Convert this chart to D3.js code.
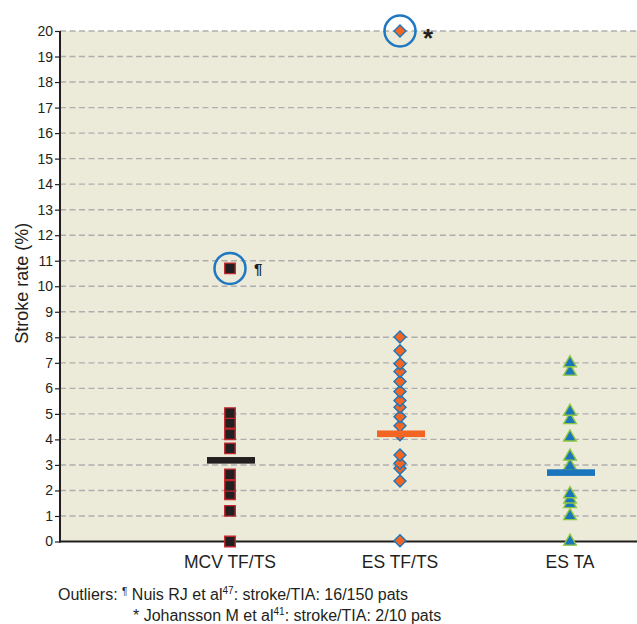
<!DOCTYPE html>
<html>
<head>
<meta charset="utf-8">
<script src="https://cdn.jsdelivr.net/npm/d3@7"></script>
<style>
  body { margin: 0; background: #fff; }
  text { font-family: "Liberation Sans", Arial, sans-serif; fill: #231f20; }
</style>
</head>
<body>
<svg id="chart" width="637" height="624"></svg>
<script>
var svgWidth = 637;
var svgHeight = 624;

var categories = ['MCV TF/TS', 'ES TF/TS', 'ES TA'];
var mcvValues = [0, 1.2, 1.85, 2.18, 2.63, 3.65, 4.2, 4.64, 5.03];
var esTfValues = [0.03, 2.37, 2.87, 3.07, 3.39, 4.18, 4.53, 4.89, 5.26, 5.52, 5.88, 6.27, 6.66, 6.96, 7.47, 8.01];
var esTaValues = [0, 1.0, 1.47, 1.65, 1.86, 2.96, 3.33, 4.08, 4.76, 5.09, 6.66, 6.99];
var medians = [3.18, 4.22, 2.7];
var outliers = [
  { cat: 'MCV TF/TS', value: 10.7, mark: '¶' },
  { cat: 'ES TF/TS', value: 20, mark: '*' }
];
var yTicks = d3.range(0, 21);

var plotLeft = 60, plotRight = 637, plotTop = 31, plotBottom = 541.5;

var svg = d3.select('#chart');

var x = d3.scalePoint()
  .domain(categories)
  .range([230, 570]);

var y = d3.scaleLinear()
  .domain([0, 20])
  .range([plotBottom, plotTop]);

// background
svg.append('rect')
  .attr('x', plotLeft)
  .attr('y', plotTop)
  .attr('width', plotRight - plotLeft)
  .attr('height', plotBottom - plotTop)
  .attr('fill', '#ecead8');

// grid
svg.append('g')
  .selectAll('line')
  .data(yTicks.filter(function(d) { return d > 0; }))
  .enter()
  .append('line')
  .attr('x1', plotLeft)
  .attr('x2', plotRight)
  .attr('y1', function(d) { return y(d); })
  .attr('y2', function(d) { return y(d); })
  .attr('stroke', '#aeaeae')
  .attr('stroke-width', 1.4)
  .attr('stroke-dasharray', '6,3.5');

// y axis
var yAxis = svg.append('g')
  .attr('transform', 'translate(' + plotLeft + ',0)')
  .call(d3.axisLeft(y).tickValues(yTicks).tickSize(5).tickPadding(2).tickFormat(d3.format('d')));
yAxis.select('.domain').remove();
yAxis.selectAll('.tick line').attr('stroke', '#231f20').attr('stroke-width', 1.2);
yAxis.selectAll('.tick text')
  .style('font-family', '"Liberation Sans Narrow", "Liberation Sans", Arial, sans-serif')
  .style('font-size', '14px')
  .attr('fill', '#231f20');

svg.append('line')
  .attr('x1', plotLeft).attr('x2', plotLeft)
  .attr('y1', plotTop).attr('y2', plotBottom + 1)
  .attr('stroke', '#231f20').attr('stroke-width', 2);
svg.append('line')
  .attr('x1', plotLeft - 1).attr('x2', plotRight)
  .attr('y1', plotBottom).attr('y2', plotBottom)
  .attr('stroke', '#231f20').attr('stroke-width', 2);

svg.append('text')
  .attr('transform', 'translate(28,' + ((plotTop + plotBottom) / 2 - 3) + ') rotate(-90)')
  .attr('text-anchor', 'middle')
  .style('font-size', '18px')
  .text('Stroke rate (%)');

// category labels
svg.append('g')
  .selectAll('text')
  .data(categories)
  .enter()
  .append('text')
  .attr('x', function(d) { return x(d); })
  .attr('y', 568)
  .attr('text-anchor', 'middle')
  .style('font-size', '17.5px')
  .text(function(d) { return d; });

// outlier circles
svg.append('g')
  .selectAll('circle')
  .data(outliers)
  .enter()
  .append('circle')
  .attr('cx', function(d) { return x(d.cat); })
  .attr('cy', function(d) { return y(d.value); })
  .attr('r', 15.5)
  .attr('fill', 'none')
  .attr('stroke', '#1f78c1')
  .attr('stroke-width', 2.5);

// points
var squares = mcvValues.concat([10.7]);
svg.append('g')
  .selectAll('path')
  .data(squares)
  .enter()
  .append('path')
  .attr('d', d3.symbol().type(d3.symbolSquare).size(110))
  .attr('transform', function(d) { return 'translate(' + x('MCV TF/TS') + ',' + y(d) + ')'; })
  .attr('fill', '#231f20')
  .attr('stroke', '#c1272d')
  .attr('stroke-width', 1.4);

var diamonds = esTfValues.concat([20]);
svg.append('g')
  .selectAll('path')
  .data(diamonds)
  .enter()
  .append('path')
  .attr('d', d3.symbol().type(d3.symbolSquare).size(72))
  .attr('transform', function(d) { return 'translate(' + x('ES TF/TS') + ',' + y(d) + ') rotate(45)'; })
  .attr('fill', '#f26522')
  .attr('stroke', '#1b75bc')
  .attr('stroke-width', 1.4);

svg.append('g')
  .selectAll('path')
  .data(esTaValues)
  .enter()
  .append('path')
  .attr('d', d3.symbol().type(d3.symbolTriangle).size(70))
  .attr('transform', function(d) { return 'translate(' + x('ES TA') + ',' + y(d) + ')'; })
  .attr('fill', '#1b75bc')
  .attr('stroke', '#8dc63f')
  .attr('stroke-width', 1.4);

// medians
var medianColors = ['#231f20', '#f26522', '#1b75bc'];
svg.append('g')
  .selectAll('rect')
  .data(medians)
  .enter()
  .append('rect')
  .attr('x', function(d, i) { return x(categories[i]) + 1 - 24; })
  .attr('y', function(d) { return y(d) - 3.3; })
  .attr('width', 48)
  .attr('height', 6.6)
  .attr('fill', function(d, i) { return medianColors[i]; });

// outlier marks
svg.append('text')
  .attr('x', x('MCV TF/TS') + 24)
  .attr('y', y(10.7) + 6)
  .style('font-size', '15px')
  .style('font-weight', 'bold')
  .text('¶');
svg.append('text')
  .attr('x', x('ES TF/TS') + 23)
  .attr('y', y(20) + 16)
  .style('font-size', '26px')
  .style('font-weight', 'bold')
  .text('*');

// footnote
var note1 = svg.append('text').attr('x', 58).attr('y', 600).style('font-size', '16px');
note1.append('tspan').text('Outliers: ');
note1.append('tspan').style('font-size', '10px').attr('dy', -5).text('¶');
note1.append('tspan').attr('dy', 5).text(' Nuis RJ et al');
note1.append('tspan').style('font-size', '10px').attr('dy', -6).text('47');
note1.append('tspan').attr('dy', 6).text(': stroke/TIA: 16/150 pats');

var note2 = svg.append('text').attr('x', 133).attr('y', 621).style('font-size', '16px');
note2.append('tspan').text('* Johansson M et al');
note2.append('tspan').style('font-size', '10px').attr('dy', -6).text('41');
note2.append('tspan').attr('dy', 6).text(': stroke/TIA: 2/10 pats');
</script>
</body>
</html>
